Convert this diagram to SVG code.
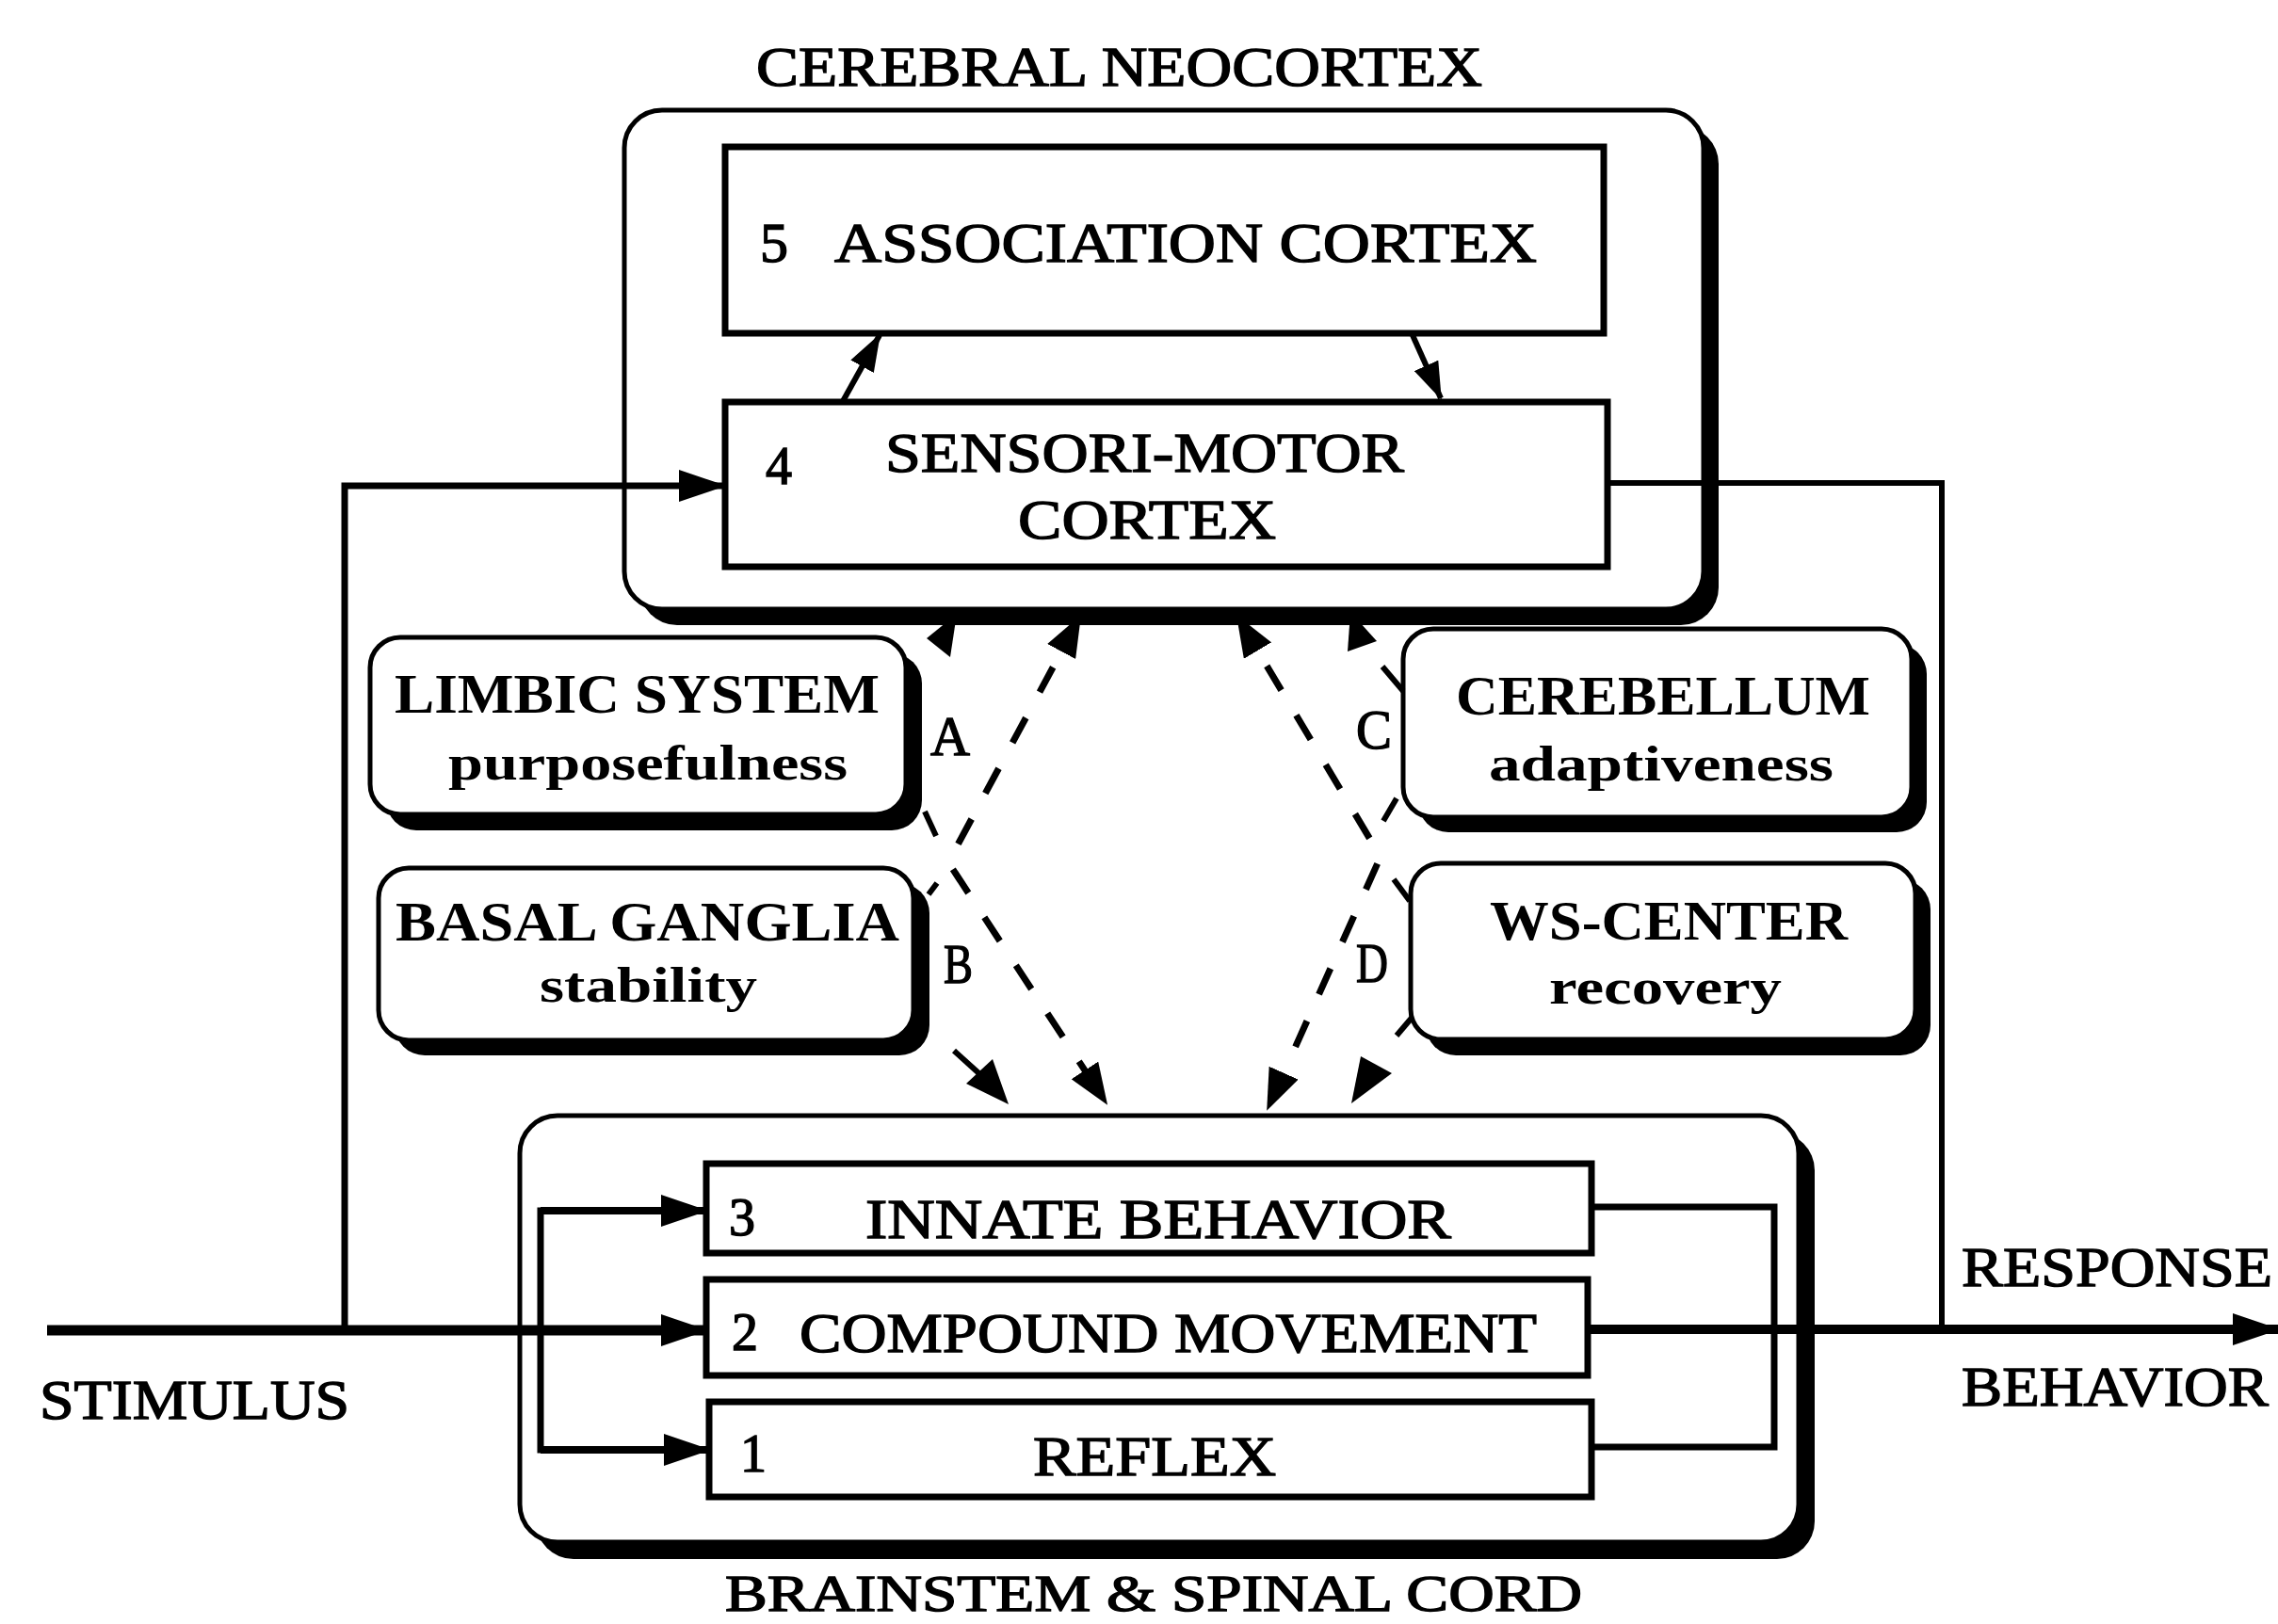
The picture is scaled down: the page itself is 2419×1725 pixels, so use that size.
<svg xmlns="http://www.w3.org/2000/svg" width="2419" height="1725" viewBox="0 0 2419 1725">
  <style>
    .lbl { font-family: "Liberation Serif", "Times New Roman", serif; fill: #000; stroke: #000; stroke-width: 1.4; }
    .big { font-size: 60px; }
    .num { font-size: 56px; }
    .bold { font-weight: bold; stroke-width: 0; }
    .sub { font-size: 52px; font-weight: bold; stroke-width: 0; }
    .frame { fill: #fff; stroke: #000; stroke-width: 5; }
    .shadow { fill: #000; }
    .inner { fill: #fff; stroke: #000; stroke-width: 7; }
    .wire { fill: none; stroke: #000; stroke-linecap: butt; stroke-linejoin: miter; }
    .dash { fill: none; stroke: #000; stroke-width: 7; stroke-dasharray: 30 31; }
  </style>
  <defs>
    <marker id="arr" viewBox="0 0 50 34" markerWidth="50" markerHeight="34" refX="48" refY="17" orient="auto" markerUnits="userSpaceOnUse">
      <path d="M0,0 L50,17 L0,34 z" fill="#000"/>
    </marker>
    <marker id="arrS" viewBox="0 0 40 28" markerWidth="40" markerHeight="28" refX="38" refY="14" orient="auto" markerUnits="userSpaceOnUse">
      <path d="M0,0 L40,14 L0,28 z" fill="#000"/>
    </marker>
    <marker id="arrD" viewBox="0 0 44 34" markerWidth="44" markerHeight="34" refX="42" refY="17" orient="auto-start-reverse" markerUnits="userSpaceOnUse">
      <path d="M0,0 L44,17 L0,34 z" fill="#000"/>
    </marker>
  </defs>

  <!-- cerebral neocortex group -->
  <g id="neocortex">
    <rect class="shadow" x="679" y="134" width="1146" height="530" rx="40"/>
    <rect class="frame" x="663" y="117" width="1146" height="530" rx="40"/>
    <text class="lbl big" x="803" y="91" textLength="771" lengthAdjust="spacingAndGlyphs">CEREBRAL NEOCORTEX</text>
  </g>

  <g id="association-cortex">
    <rect class="inner" x="770" y="156" width="933" height="198"/>
    <text class="lbl big" x="807" y="278">5</text>
    <text class="lbl big" x="886" y="278" textLength="746" lengthAdjust="spacingAndGlyphs">ASSOCIATION CORTEX</text>
  </g>

  <g id="sensorimotor-cortex">
    <rect class="inner" x="770" y="427" width="937" height="175"/>
    <text class="lbl num" x="813" y="514">4</text>
    <text class="lbl big" x="940" y="501" textLength="551" lengthAdjust="spacingAndGlyphs">SENSORI-MOTOR</text>
    <text class="lbl big" x="1081" y="572" textLength="274" lengthAdjust="spacingAndGlyphs">CORTEX</text>
  </g>

  <g id="limbic-system">
    <rect class="shadow" x="410" y="694" width="569" height="188" rx="32"/>
    <rect class="frame" x="393" y="677" width="569" height="188" rx="32"/>
    <text class="lbl big bold" x="419" y="757" textLength="515" lengthAdjust="spacingAndGlyphs">LIMBIC SYSTEM</text>
    <text class="lbl sub" x="476" y="828" textLength="424" lengthAdjust="spacingAndGlyphs">purposefulness</text>
  </g>

  <g id="basal-ganglia">
    <rect class="shadow" x="419" y="938" width="568" height="183" rx="32"/>
    <rect class="frame" x="402" y="922" width="568" height="183" rx="32"/>
    <text class="lbl big bold" x="420" y="999" textLength="535" lengthAdjust="spacingAndGlyphs">BASAL GANGLIA</text>
    <text class="lbl sub" x="573" y="1064" textLength="231" lengthAdjust="spacingAndGlyphs">stability</text>
  </g>

  <g id="cerebellum">
    <rect class="shadow" x="1506" y="684" width="540" height="200" rx="32"/>
    <rect class="frame" x="1490" y="668" width="540" height="200" rx="32"/>
    <text class="lbl big bold" x="1546" y="759" textLength="440" lengthAdjust="spacingAndGlyphs">CEREBELLUM</text>
    <text class="lbl sub" x="1581" y="829" textLength="366" lengthAdjust="spacingAndGlyphs">adaptiveness</text>
  </g>

  <g id="ws-center">
    <rect class="shadow" x="1514" y="934" width="536" height="187" rx="32"/>
    <rect class="frame" x="1498" y="917" width="536" height="187" rx="32"/>
    <text class="lbl big bold" x="1582" y="998" textLength="380" lengthAdjust="spacingAndGlyphs">WS-CENTER</text>
    <text class="lbl sub" x="1645" y="1066" textLength="247" lengthAdjust="spacingAndGlyphs">recovery</text>
  </g>

  <!-- brainstem and spinal cord group -->
  <g id="brainstem">
    <rect class="shadow" x="569" y="1203" width="1358" height="453" rx="40"/>
    <rect class="frame" x="552" y="1185" width="1358" height="453" rx="40"/>
    <text class="lbl" font-size="54" x="770" y="1711" textLength="910" lengthAdjust="spacingAndGlyphs">BRAINSTEM &amp; SPINAL CORD</text>
  </g>

  <g id="innate-behavior">
    <rect class="inner" x="750" y="1236" width="940" height="95"/>
    <text class="lbl num" x="774" y="1312">3</text>
    <text class="lbl big" x="919" y="1315" textLength="622" lengthAdjust="spacingAndGlyphs">INNATE BEHAVIOR</text>
  </g>

  <g id="compound-movement">
    <rect class="inner" x="750" y="1359" width="936" height="102"/>
    <text class="lbl num" x="777" y="1434">2</text>
    <text class="lbl big" x="849" y="1436" textLength="783" lengthAdjust="spacingAndGlyphs">COMPOUND MOVEMENT</text>
  </g>

  <g id="reflex">
    <rect class="inner" x="753" y="1489" width="937" height="101"/>
    <text class="lbl num" x="786" y="1563">1</text>
    <text class="lbl big" x="1097" y="1567" textLength="258" lengthAdjust="spacingAndGlyphs">REFLEX</text>
  </g>

  <!-- terminal labels -->
  <g id="stimulus">
    <text class="lbl big" x="42" y="1507" textLength="329" lengthAdjust="spacingAndGlyphs">STIMULUS</text>
  </g>
  <g id="response">
    <text class="lbl big" x="2083" y="1366" textLength="330" lengthAdjust="spacingAndGlyphs">RESPONSE</text>
    <text class="lbl big" x="2083" y="1493" textLength="326" lengthAdjust="spacingAndGlyphs">BEHAVIOR</text>
  </g>

  <!-- pathway labels -->
  <g id="path-labels">
    <text class="lbl big" x="988" y="802" textLength="42" lengthAdjust="spacingAndGlyphs">A</text>
    <text class="lbl big" x="1002" y="1044" textLength="31" lengthAdjust="spacingAndGlyphs">B</text>
    <text class="lbl big" x="1440" y="795" textLength="38" lengthAdjust="spacingAndGlyphs">C</text>
    <text class="lbl big" x="1440" y="1043" textLength="34" lengthAdjust="spacingAndGlyphs">D</text>
  </g>

  <!-- connectors -->
  <g id="connectors">
    <!-- stimulus input into compound movement -->
    <line class="wire" x1="50" y1="1413" x2="750" y2="1413" stroke-width="11" marker-end="url(#arr)"/>
    <!-- feedback branch up to the sensori-motor cortex -->
    <polyline class="wire" points="366,1413 366,516 769,516" stroke-width="7" marker-end="url(#arr)"/>
    <!-- distribution to innate behavior and reflex -->
    <polyline class="wire" points="750,1286 574,1286 574,1540 752,1540" stroke-width="7"/>
    <line class="wire" x1="574" y1="1286" x2="750" y2="1286" stroke-width="8" marker-end="url(#arr)"/>
    <line class="wire" x1="574" y1="1540" x2="753" y2="1540" stroke-width="8" marker-end="url(#arr)"/>
    <!-- sensori-motor and association loop -->
    <line class="wire" x1="894" y1="428" x2="934" y2="356" stroke-width="6" marker-end="url(#arrS)"/>
    <line class="wire" x1="1500" y1="356" x2="1530" y2="423" stroke-width="6" marker-end="url(#arrS)"/>
    <!-- cortical output down to the response line -->
    <polyline class="wire" points="1707,513 2062,513 2062,1412" stroke-width="6"/>
    <!-- collector of brainstem outputs -->
    <polyline class="wire" points="1690,1282 1884,1282 1884,1537 1690,1537" stroke-width="7"/>
    <!-- response / behavior output -->
    <line class="wire" x1="1686" y1="1412" x2="2419" y2="1412" stroke-width="10" marker-end="url(#arr)"/>

    <!-- dashed descending/ascending pathways -->
    <polyline class="dash" points="1147,655 1007,916 1175,1172" marker-start="url(#arrD)" marker-end="url(#arrD)"/>
    <polyline class="dash" points="1314,655 1466,910 1346,1178" marker-start="url(#arrD)" marker-end="url(#arrD)"/>

    <!-- short links from the side centres -->
    <polygon points="984,678 1016,652 1009,698" fill="#000"/>
    <line class="wire" x1="982" y1="862" x2="994" y2="888" stroke-width="6"/>
    <line class="wire" x1="986" y1="950" x2="995" y2="938" stroke-width="6"/>
    <line class="wire" x1="1013" y1="1116" x2="1045" y2="1145" stroke-width="6"/>
    <polygon points="1026,1151 1054,1125 1071,1173" fill="#000"/>

    <line class="wire" x1="1490" y1="734" x2="1468" y2="708" stroke-width="6"/>
    <polygon points="1434,650 1462,681 1431,692" fill="#000"/>
    <line class="wire" x1="1483" y1="848" x2="1469" y2="872" stroke-width="6"/>
    <line class="wire" x1="1480" y1="934" x2="1497" y2="957" stroke-width="6"/>
    <line class="wire" x1="1500" y1="1080" x2="1483" y2="1100" stroke-width="6"/>
    <polygon points="1445,1122 1478,1140 1435,1172" fill="#000"/>
  </g>
</svg>
